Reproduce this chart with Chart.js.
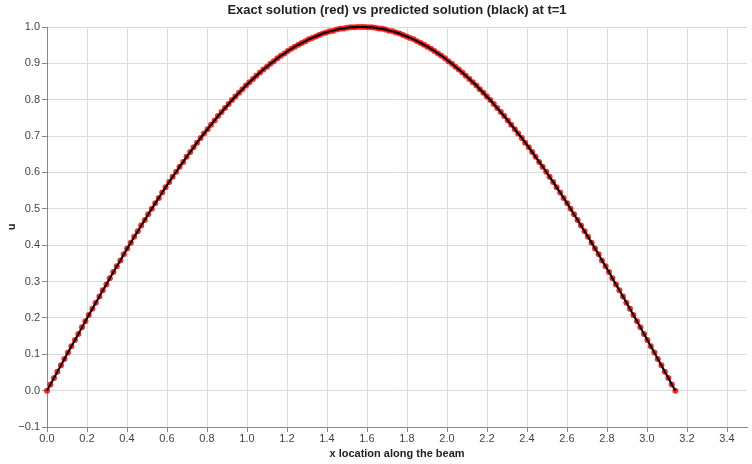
<!DOCTYPE html>
<html>
<head>
<meta charset="utf-8">
<script src="https://cdn.jsdelivr.net/npm/chart.js@4.4.1/dist/chart.umd.min.js"></script>
<style>
  html, body { margin: 0; padding: 0; background: #fff; }
  #wrap { width: 752px; height: 464px; }
</style>
</head>
<body>
<div id="wrap"><canvas id="beamChart" width="752" height="464"></canvas></div>
<script>
// x positions along the beam (0 .. pi)
const xLocations = [
  0, 0.017, 0.035, 0.052, 0.070, 0.087, 0.105, 0.122, 0.140, 0.157,
  0.175, 0.192, 0.209, 0.227, 0.244, 0.262, 0.279, 0.297, 0.314, 0.332,
  0.349, 0.367, 0.384, 0.401, 0.419, 0.436, 0.454, 0.471, 0.489, 0.506,
  0.524, 0.541, 0.559, 0.576, 0.593, 0.611, 0.628, 0.646, 0.663, 0.681,
  0.698, 0.716, 0.733, 0.750, 0.768, 0.785, 0.803, 0.820, 0.838, 0.855,
  0.873, 0.890, 0.908, 0.925, 0.942, 0.960, 0.977, 0.995, 1.012, 1.030,
  1.047, 1.065, 1.082, 1.100, 1.117, 1.134, 1.152, 1.169, 1.187, 1.204,
  1.222, 1.239, 1.257, 1.274, 1.292, 1.309, 1.326, 1.344, 1.361, 1.379,
  1.396, 1.414, 1.431, 1.449, 1.466, 1.484, 1.501, 1.518, 1.536, 1.553,
  1.571, 1.588, 1.606, 1.623, 1.641, 1.658, 1.676, 1.693, 1.710, 1.728,
  1.745, 1.763, 1.780, 1.798, 1.815, 1.833, 1.850, 1.868, 1.885, 1.902,
  1.920, 1.937, 1.955, 1.972, 1.990, 2.007, 2.025, 2.042, 2.059, 2.077,
  2.094, 2.112, 2.129, 2.147, 2.164, 2.182, 2.199, 2.217, 2.234, 2.251,
  2.269, 2.286, 2.304, 2.321, 2.339, 2.356, 2.374, 2.391, 2.409, 2.426,
  2.443, 2.461, 2.478, 2.496, 2.513, 2.531, 2.548, 2.566, 2.583, 2.601,
  2.618, 2.635, 2.653, 2.670, 2.688, 2.705, 2.723, 2.740, 2.758, 2.775,
  2.793, 2.810, 2.827, 2.845, 2.862, 2.880, 2.897, 2.915, 2.932, 2.950,
  2.967, 2.985, 3.002, 3.019, 3.037, 3.054, 3.072, 3.089, 3.107, 3.124,
  3.142
];

// exact solution u(x, t=1)
const exactU = [
  0.000, 0.017, 0.035, 0.052, 0.070, 0.087, 0.105, 0.122, 0.139, 0.156,
  0.174, 0.191, 0.208, 0.225, 0.242, 0.259, 0.276, 0.292, 0.309, 0.326,
  0.342, 0.358, 0.375, 0.391, 0.407, 0.423, 0.438, 0.454, 0.469, 0.485,
  0.500, 0.515, 0.530, 0.545, 0.559, 0.574, 0.588, 0.602, 0.616, 0.629,
  0.643, 0.656, 0.669, 0.682, 0.695, 0.707, 0.719, 0.731, 0.743, 0.755,
  0.766, 0.777, 0.788, 0.799, 0.809, 0.819, 0.829, 0.839, 0.848, 0.857,
  0.866, 0.875, 0.883, 0.891, 0.899, 0.906, 0.914, 0.921, 0.927, 0.934,
  0.940, 0.946, 0.951, 0.956, 0.961, 0.966, 0.970, 0.974, 0.978, 0.982,
  0.985, 0.988, 0.990, 0.993, 0.995, 0.996, 0.998, 0.999, 0.999, 1.000,
  1.000, 1.000, 0.999, 0.999, 0.998, 0.996, 0.995, 0.993, 0.990, 0.988,
  0.985, 0.982, 0.978, 0.974, 0.970, 0.966, 0.961, 0.956, 0.951, 0.946,
  0.940, 0.934, 0.927, 0.921, 0.914, 0.906, 0.899, 0.891, 0.883, 0.875,
  0.866, 0.857, 0.848, 0.839, 0.829, 0.819, 0.809, 0.799, 0.788, 0.777,
  0.766, 0.755, 0.743, 0.731, 0.719, 0.707, 0.695, 0.682, 0.669, 0.656,
  0.643, 0.629, 0.616, 0.602, 0.588, 0.574, 0.559, 0.545, 0.530, 0.515,
  0.500, 0.485, 0.469, 0.454, 0.438, 0.423, 0.407, 0.391, 0.375, 0.358,
  0.342, 0.326, 0.309, 0.292, 0.276, 0.259, 0.242, 0.225, 0.208, 0.191,
  0.174, 0.156, 0.139, 0.122, 0.105, 0.087, 0.070, 0.052, 0.035, 0.017,
  0.000
];

// predicted solution, black line (sits on top of the red markers)
const predictedU = exactU;

const xTicks = [0, 0.2, 0.4, 0.6, 0.8, 1.0, 1.2, 1.4, 1.6, 1.8, 2.0, 2.2, 2.4, 2.6, 2.8, 3.0, 3.2, 3.4];
const yTicks = [-0.1, 0, 0.1, 0.2, 0.3, 0.4, 0.5, 0.6, 0.7, 0.8, 0.9, 1.0];

const chartTitle = 'Exact solution (red) vs predicted solution (black) at t=1';

const toPoints = (xs, ys) => xs.map((x, i) => ({ x: x, y: ys[i] }));
const fmt = v => {
    const s = Number(v).toFixed(1);
    return s.startsWith('-') ? '\u2212' + s.slice(1) : s;
};

const fontFamily = 'Liberation Sans, Arial, sans-serif';
const axisGrey = '#888';
const gridGrey = '#dcdcdc';
const tickFont = { family: fontFamily, size: 11 };

// title centred over the plot area, not over the whole canvas
const plotTitle = {
    id: 'plotTitle',
    afterDraw: chart => {
        const area = chart.chartArea;
        if (!area) return;
        const c = chart.ctx;
        c.save();
        c.font = 'bold 13px ' + fontFamily;
        c.fillStyle = '#222';
        c.textAlign = 'center';
        c.textBaseline = 'middle';
        c.fillText(chartTitle, (area.left + area.right) / 2, 10);
        c.restore();
    }
};

const ctx = document.getElementById('beamChart').getContext('2d');

new Chart(ctx, {
    type: 'scatter',
    data: {
        datasets: [
            {
                label: 'predicted',
                data: toPoints(xLocations, predictedU),
                showLine: true,
                borderColor: '#000',
                borderWidth: 2,
                pointRadius: 0,
                tension: 0,
                clip: false
            },
            {
                label: 'exact',
                data: toPoints(xLocations, exactU),
                showLine: false,
                backgroundColor: 'rgba(255, 0, 0, 0.85)',
                borderWidth: 0,
                pointRadius: 3,
                clip: false
            }
        ]
    },
    options: {
        responsive: false,
        animation: false,
        layout: { padding: { left: 0, right: 5, top: 27, bottom: 0 } },
        plugins: {
            legend: { display: false },
            tooltip: { enabled: false },
            title: { display: false }
        },
        scales: {
            x: {
                type: 'linear',
                min: 0,
                max: 3.5,
                afterBuildTicks: scale => { scale.ticks = xTicks.map(v => ({ value: v })); },
                afterFit: scale => { scale.height = 37; },
                ticks: { color: '#444', font: tickFont, padding: 0, maxRotation: 0, callback: v => fmt(v) },
                grid: { color: gridGrey, tickColor: axisGrey, tickLength: 5 },
                border: { color: axisGrey, width: 1 },
                title: {
                    display: true,
                    text: 'x location along the beam',
                    color: '#222',
                    font: { family: fontFamily, size: 11, weight: 'bold' },
                    padding: { top: 0, bottom: 3 }
                }
            },
            y: {
                type: 'linear',
                min: -0.1,
                max: 1.0,
                afterBuildTicks: scale => { scale.ticks = yTicks.map(v => ({ value: v })); },
                afterFit: scale => { scale.width = 47; },
                ticks: { color: '#444', font: tickFont, padding: 2, callback: v => fmt(v) },
                grid: { color: gridGrey, tickColor: axisGrey, tickLength: 5 },
                border: { color: axisGrey, width: 1 },
                title: {
                    display: true,
                    text: 'u',
                    color: '#222',
                    font: { family: fontFamily, size: 11, weight: 'bold' },
                    padding: { top: 5, bottom: 0 }
                }
            }
        }
    },
    plugins: [plotTitle]
});
</script>
</body>
</html>
